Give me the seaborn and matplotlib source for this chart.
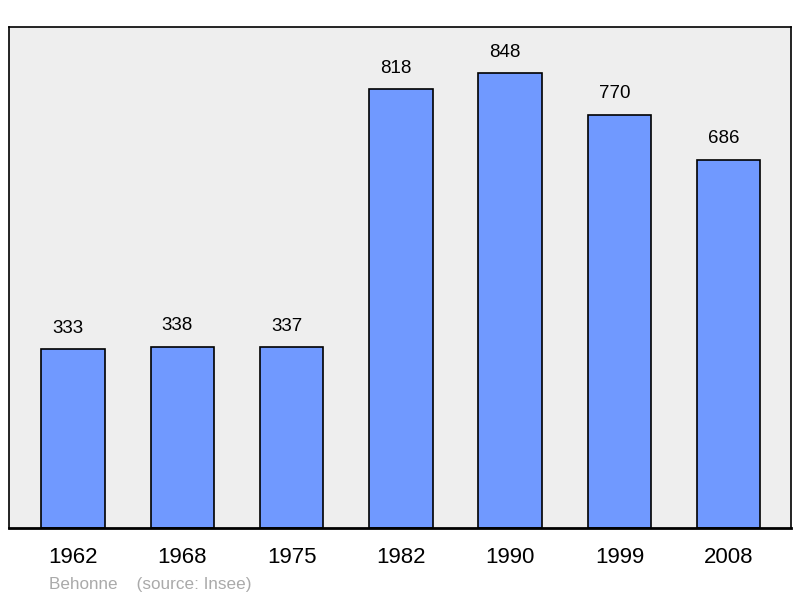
import matplotlib
matplotlib.use("Agg")
import matplotlib.pyplot as plt
import seaborn as sns
import pandas as pd

# Population data (Behonne)
years = ["1962", "1968", "1975", "1982", "1990", "1999", "2008"]
population = [333, 338, 337, 818, 848, 770, 686]

df = pd.DataFrame({"Year": years, "Population": population})

sns.set_theme(style="white")
plt.rcParams["font.family"] = ["Liberation Sans", "DejaVu Sans"]

fig = plt.figure(figsize=(8, 5.98), dpi=100)
ax = fig.add_axes([0.01125, 0.117, 0.9775, 0.838])
ax.set_facecolor("#eeeeee")

sns.barplot(data=df, x="Year", y="Population", color="#7099ff", saturation=1,
            width=0.58, edgecolor="black", linewidth=1.2, ax=ax)

# value labels above each bar (slightly left of centre, as in the original)
for i, v in enumerate(population):
    ax.annotate(str(v), (i, v), xytext=(-3.5, 9), textcoords="offset points",
                ha="center", va="bottom", fontsize=13.5, color="black")

ax.set_xlim(-0.585, 6.57)
ax.set_ylim(0, 934)
ax.set_yticks([])
ax.set_xlabel("")
ax.set_ylabel("")
ax.tick_params(axis="x", length=0, pad=14, labelsize=16, colors="black")

for side, sp in ax.spines.items():
    sp.set_visible(True)
    sp.set_color("black")
    sp.set_linewidth(1.2)
ax.spines["bottom"].set_linewidth(2)

fig.text(49 / 800, 1 - 584 / 598, "Behonne    (source: Insee)", fontsize=12.3,
         color="#aaaaaa", ha="left", va="center")

fig.savefig("out.png", dpi=100)
